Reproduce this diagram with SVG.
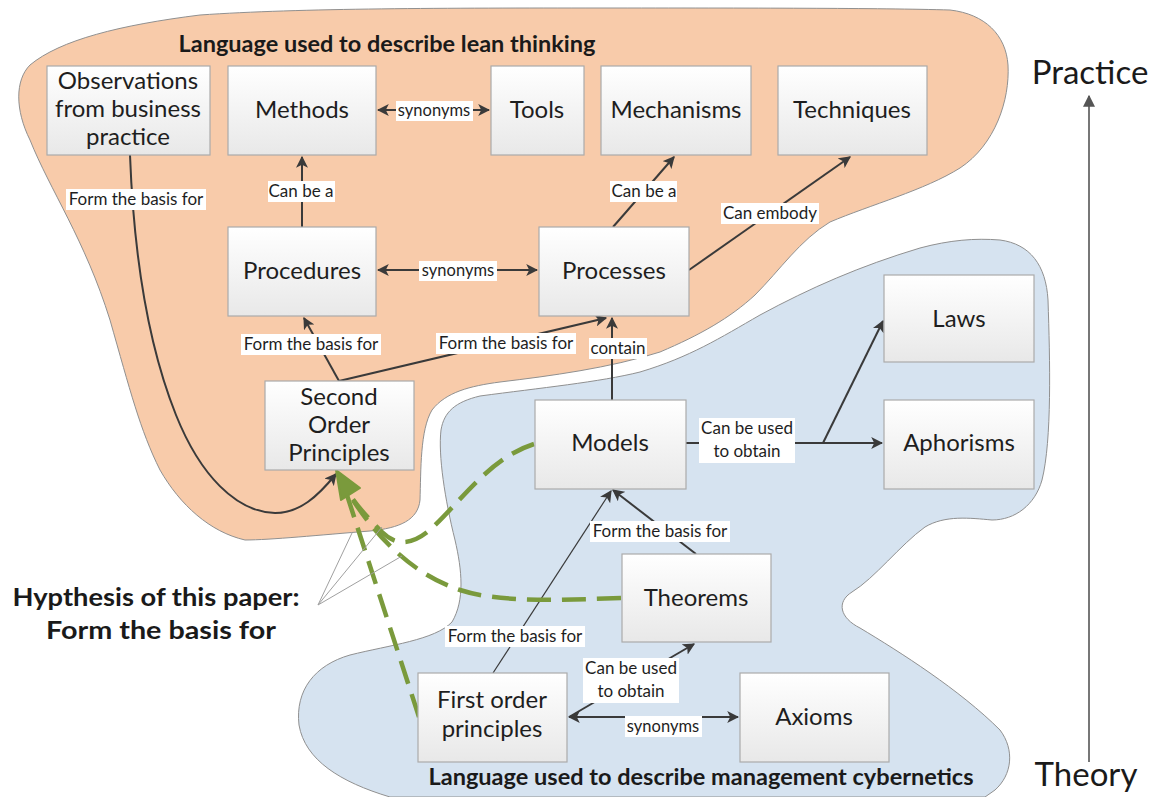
<svg xmlns="http://www.w3.org/2000/svg" width="1154" height="797" viewBox="0 0 1154 797">
<style>
.box{fill:url(#bg);stroke:#ABABAB;stroke-width:1.2}
.nt{font-family:Lato,"Liberation Sans",sans-serif;font-size:24px;fill:#1E1E1E;text-anchor:middle}
.lb{font-family:Lato,"Liberation Sans",sans-serif;font-size:17px;fill:#1E1E1E;text-anchor:middle}
.lbs{font-size:16.5px}
.lbg{fill:#FFFFFF}
.ttl{font-family:Lato,"Liberation Sans",sans-serif;font-size:22.5px;font-weight:bold;fill:#1A1A1A;text-anchor:middle}
.ax{font-family:Lato,"Liberation Sans",sans-serif;font-size:33px;fill:#1A1A1A;text-anchor:middle}
.cn{fill:none;stroke:#3A3A3A;stroke-width:2}
.thin{fill:none;stroke:#3A3A3A;stroke-width:1.2}
.gd{fill:none;stroke:#7A9A3C;stroke-width:4.5;stroke-dasharray:24 11}
</style>
<defs>
<linearGradient id="bg" x1="0" y1="0" x2="0" y2="1">
<stop offset="0" stop-color="#FFFFFF"/>
<stop offset="1" stop-color="#E8E8E8"/>
</linearGradient>
<marker id="ah" viewBox="0 0 10 10" refX="9" refY="5" markerWidth="12" markerHeight="12" markerUnits="userSpaceOnUse" orient="auto-start-reverse">
<path d="M0,0 L10,5 L0,10 L2.5,5 Z" fill="#3A3A3A"/>
</marker>
<marker id="ahg" viewBox="0 0 10 10" refX="9" refY="5" markerWidth="12" markerHeight="12" markerUnits="userSpaceOnUse" orient="auto">
<path d="M0,0 L10,5 L0,10 Z" fill="#555555"/>
</marker>
</defs>
<rect width="1154" height="797" fill="#FFFFFF"/>
<g id="regions">
<path d="M500,382 C470,386 446,392 432,410 C420,430 421,470 420,500 C418,520 400,528 370,531 C320,535 270,540 245,540 C210,532 180,505 160,470 C140,430 130,390 110,320 C85,240 50,190 30,140 C15,110 15,80 30,65 C60,40 120,25 200,15 C300,8 450,8 600,8 C750,8 880,8 950,10 C985,14 1006,35 1008,65 C1010,100 995,145 960,168 C925,190 870,205 830,222 C800,240 780,270 755,295 C730,318 700,335 660,352 C610,368 550,376 500,382 Z" fill="#F8CBAA" stroke="#909090" stroke-width="1"/>
<path d="M1000,240 C1030,244 1046,265 1048,300 C1050,360 1052,440 1042,480 C1035,505 1015,520 992,520 C970,518 945,515 925,527 C900,545 875,578 852,592 C836,602 840,618 860,628 C900,652 960,690 1000,730 C1015,750 1012,775 995,790 L985,797 L390,797 C340,782 305,760 299,725 C295,690 315,665 350,655 C390,645 435,640 452,622 C465,600 462,570 455,540 C445,500 438,455 441,430 C444,412 455,402 480,396 C540,388 600,382 640,372 C690,357 720,338 760,315 C810,288 860,266 920,248 C950,240 975,238 1000,240 Z" fill="#D6E3F0" stroke="#909090" stroke-width="1"/>
</g>
<text class="ttl" x="387" y="52" textLength="417" lengthAdjust="spacingAndGlyphs">Language used to describe lean thinking</text>
<text class="ttl" x="701" y="785" textLength="545" lengthAdjust="spacingAndGlyphs">Language used to describe management cybernetics</text>
<g id="connectors">
<path class="cn" d="M130,155 C134,260 150,350 176,415 C200,475 236,512 275,513 C300,513 318,496 336,474" marker-end="url(#ah)"/>
<path class="cn" d="M302,227 L302,157" marker-end="url(#ah)"/>
<path class="cn" d="M378,110 L489,110" marker-start="url(#ah)" marker-end="url(#ah)"/>
<path class="cn" d="M378,270 L537,270" marker-start="url(#ah)" marker-end="url(#ah)"/>
<path class="cn" d="M613,227 L674,157" marker-end="url(#ah)"/>
<path class="cn" d="M689,270 L850,157" marker-end="url(#ah)"/>
<path class="cn" d="M339,381 L304,318" marker-end="url(#ah)"/>
<path class="cn" d="M339,381 L606,318" marker-end="url(#ah)"/>
<path class="cn" d="M612,400 L612,318" marker-end="url(#ah)"/>
<path class="cn" d="M686,443 L882,443" marker-end="url(#ah)"/>
<path class="cn" d="M823,443 L883,321" marker-end="url(#ah)"/>
<path class="cn" d="M696,554 L613,490" marker-end="url(#ah)"/>
<path class="thin" d="M493,673 L611,491" marker-end="url(#ah)"/>
<path class="cn" d="M569,717 L694,644" marker-end="url(#ah)"/>
<path class="cn" d="M569,717 L738,717" marker-start="url(#ah)" marker-end="url(#ah)"/>
<path d="M1089,762 L1089,96" fill="none" stroke="#555555" stroke-width="1.6" marker-end="url(#ahg)"/>
<path class="gd" d="M419,717 L346,492"/>
<path class="gd" d="M621,598 C560,600 500,603 460,590 C420,577 380,545 348,492"/>
<path class="gd" d="M534,444 C490,458 462,500 432,528 C412,546 396,546 382,532 C368,518 356,505 348,492"/>
<path d="M336,470 L360,488 L341,500 Z" fill="#7A9A3C" stroke="#7A9A3C" stroke-width="2" stroke-linejoin="round"/>
<path d="M318,605 L352,533 M318,605 L382,527 M318,605 L402,556" fill="none" stroke="#A0A0A0" stroke-width="1"/>
<rect class="lbg" x="66" y="189" width="140" height="21"/><text class="lb" x="136" y="205">Form the basis for</text>
<rect class="lbg" x="268" y="181" width="67" height="21"/><text class="lb" x="301" y="197">Can be a</text>
<rect class="lbg" x="396" y="101" width="77" height="20"/><text class="lb lbs" x="434" y="116">synonyms</text>
<rect class="lbg" x="419" y="261" width="78" height="20"/><text class="lb lbs" x="458" y="276">synonyms</text>
<rect class="lbg" x="241" y="334" width="140" height="21"/><text class="lb" x="311" y="350">Form the basis for</text>
<rect class="lbg" x="436" y="333" width="140" height="21"/><text class="lb" x="506" y="349">Form the basis for</text>
<rect class="lbg" x="589" y="338" width="58" height="21"/><text class="lb" x="618" y="354">contain</text>
<rect class="lbg" x="610" y="181" width="67" height="21"/><text class="lb" x="644" y="197">Can be a</text>
<rect class="lbg" x="721" y="203" width="98" height="21"/><text class="lb" x="770" y="219">Can embody</text>
<rect class="lbg" x="699" y="418" width="96" height="45"/><text class="lb" x="747" y="434">Can be used</text><text class="lb" x="747" y="457">to obtain</text>
<rect class="lbg" x="590" y="521" width="140" height="21"/><text class="lb" x="660" y="537">Form the basis for</text>
<rect class="lbg" x="445" y="626" width="140" height="21"/><text class="lb" x="515" y="642">Form the basis for</text>
<rect class="lbg" x="583" y="658" width="96" height="45"/><text class="lb" x="631" y="674">Can be used</text><text class="lb" x="631" y="697">to obtain</text>
<rect class="lbg" x="625" y="716" width="77" height="21"/><text class="lb lbs" x="663" y="732">synonyms</text>
</g>
<g id="observations"><rect class="box" x="47" y="66" width="163" height="89"/><text class="nt" x="128" y="89">Observations</text><text class="nt" x="128" y="117">from business</text><text class="nt" x="128" y="145">practice</text></g>
<g id="methods"><rect class="box" x="228" y="66" width="148" height="89"/><text class="nt" x="302" y="118">Methods</text></g>
<g id="tools"><rect class="box" x="491" y="66" width="93" height="89"/><text class="nt" x="537" y="118">Tools</text></g>
<g id="mechanisms"><rect class="box" x="601" y="66" width="150" height="89"/><text class="nt" x="676" y="118">Mechanisms</text></g>
<g id="techniques"><rect class="box" x="778" y="66" width="149" height="89"/><text class="nt" x="852" y="118">Techniques</text></g>
<g id="procedures"><rect class="box" x="228" y="227" width="148" height="89"/><text class="nt" x="302" y="279">Procedures</text></g>
<g id="processes"><rect class="box" x="539" y="227" width="150" height="89"/><text class="nt" x="614" y="279">Processes</text></g>
<g id="second-order"><rect class="box" x="265" y="381" width="149" height="89"/><text class="nt" x="339" y="405">Second</text><text class="nt" x="339" y="433">Order</text><text class="nt" x="339" y="461">Principles</text></g>
<g id="laws"><rect class="box" x="884" y="275" width="150" height="87"/><text class="nt" x="959" y="327">Laws</text></g>
<g id="models"><rect class="box" x="535" y="400" width="151" height="89"/><text class="nt" x="610" y="451">Models</text></g>
<g id="aphorisms"><rect class="box" x="884" y="400" width="150" height="89"/><text class="nt" x="959" y="451">Aphorisms</text></g>
<g id="theorems"><rect class="box" x="622" y="554" width="149" height="88"/><text class="nt" x="696" y="606">Theorems</text></g>
<g id="first-order"><rect class="box" x="418" y="673" width="149" height="89"/><text class="nt" x="492" y="708">First order</text><text class="nt" x="492" y="737">principles</text></g>
<g id="axioms"><rect class="box" x="740" y="673" width="149" height="89"/><text class="nt" x="814" y="725">Axioms</text></g>
<g id="hypothesis"><text class="ttl" x="156" y="606" style="font-size:25px" textLength="287" lengthAdjust="spacingAndGlyphs">Hypthesis of this paper:</text><text class="ttl" x="161" y="639" style="font-size:25px" textLength="230" lengthAdjust="spacingAndGlyphs">Form the basis for</text></g>
<g id="axis"><text class="ax" x="1090" y="84">Practice</text><text class="ax" x="1086" y="786">Theory</text></g>
</svg>
